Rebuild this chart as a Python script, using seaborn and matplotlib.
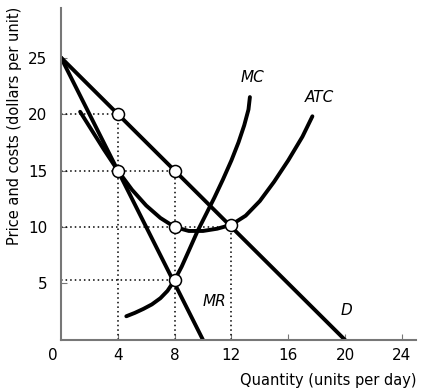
import pandas as pd
import matplotlib
matplotlib.use("Agg")
import matplotlib.pyplot as plt
import seaborn as sns

# demand and marginal revenue (straight lines)
d_q = [0, 20]
d_p = [25, 0]
mr_q = [0, 10]
mr_p = [25, 0]

# cost curves
mc_q = [4.6, 5.2, 5.8, 6.4, 7.0, 7.5, 8.0, 8.5, 9.0, 9.6, 10.2, 10.8, 11.4,
        12.0, 12.5, 12.9, 13.2, 13.3]
mc_p = [2.1, 2.4, 2.75, 3.15, 3.7, 4.35, 5.3, 6.5, 7.9, 9.6, 11.1, 12.6, 14.2,
        15.9, 17.5, 19.0, 20.4, 21.5]
atc_q = [1.35, 2, 3, 4, 5, 6, 7, 8, 9, 10, 11, 12, 13, 14, 15, 16, 17, 17.7]
atc_p = [20.2, 18.9, 16.9, 15.0, 13.3, 11.9, 10.8, 10.0, 9.65, 9.65, 9.85, 10.2,
         11.0, 12.3, 14.0, 15.9, 18.0, 19.8]

# marked points
pt_q = [4, 8, 4, 8, 12, 8]
pt_p = [20, 15, 15, 10, 10.2, 5.3]

x_ticks = [4, 8, 12, 16, 20, 24]
y_ticks = [5, 10, 15, 20, 25]

sns.set_style("ticks")
plt.rcParams["font.family"] = ["DejaVu Sans"]
plt.rcParams["text.color"] = "black"
plt.rcParams["xtick.labelcolor"] = "black"
plt.rcParams["ytick.labelcolor"] = "black"

fig = plt.figure(figsize=(4.22, 3.92), dpi=100)
ax = fig.add_axes([0.1445, 0.1327, 0.8415, 0.8473])

# dotted guides
dot = dict(color="black", lw=1.1, ls=(0, (1, 2)), zorder=1)
ax.plot([0, 4], [20, 20], **dot)
ax.plot([0, 8], [15, 15], **dot)
ax.plot([0, 12], [10, 10], **dot)
ax.plot([0, 8], [5.3, 5.3], **dot)
ax.plot([4, 4], [0, 20], **dot)
ax.plot([8, 8], [0, 15], **dot)
ax.plot([12, 12], [0, 10.2], **dot)

lw = 2.8
sns.lineplot(x=d_q, y=d_p, ax=ax, color="black", lw=lw, sort=False, zorder=2)
sns.lineplot(x=mr_q, y=mr_p, ax=ax, color="black", lw=lw, sort=False, zorder=2)
sns.lineplot(x=mc_q, y=mc_p, ax=ax, color="black", lw=lw, sort=False, zorder=2)
sns.lineplot(x=atc_q, y=atc_p, ax=ax, color="black", lw=lw, sort=False, zorder=2)

sns.scatterplot(x=pt_q, y=pt_p, ax=ax, s=75, color="white", edgecolor="black",
                linewidth=1.1, zorder=3)

lab = dict(fontsize=11, style="italic", ha="center", va="center")
ax.text(13.5, 23.2, "MC", **lab)
ax.text(18.2, 21.5, "ATC", **lab)
ax.text(10.8, 3.4, "MR", **lab)
ax.text(20.1, 2.65, "D", **lab)

ax.set_xlim(0, 25)
ax.set_ylim(0, 29.4)
ax.set_xticks(x_ticks)
ax.set_yticks(y_ticks)
ax.tick_params(direction="in", length=4, color="#777777", labelsize=11)
ax.tick_params(axis="x", pad=6)
ax.tick_params(axis="y", pad=10)
for s in ["top", "right"]:
    ax.spines[s].set_visible(False)
for s in ["left", "bottom"]:
    ax.spines[s].set_color("#777777")
    ax.spines[s].set_linewidth(1.5)

ax.text(-0.6, -1.35, "0", fontsize=11, ha="center", va="center", clip_on=False)
ax.set_xlabel("")
ax.set_ylabel("")
fig.text(0.988, 0.03, "Quantity (units per day)", fontsize=10.5, ha="right", va="center")
fig.text(0.035, 0.68, "Price and costs (dollars per unit)", fontsize=10.5,
         rotation=90, ha="center", va="center")

fig.savefig("out.png", dpi=100)
